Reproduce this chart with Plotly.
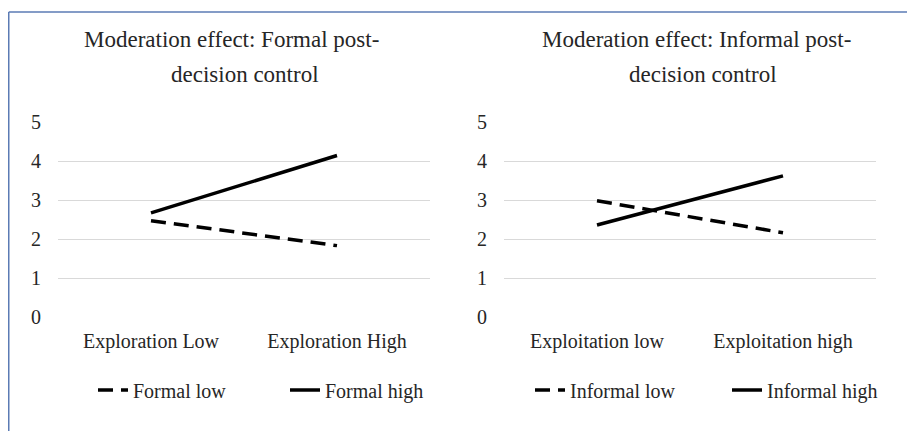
import plotly.graph_objects as go

# ---- data ----
left_categories = ["Exploration Low", "Exploration High"]
right_categories = ["Exploitation low", "Exploitation high"]
formal_low = [2.47, 1.83]
formal_high = [2.67, 4.14]
informal_low = [2.98, 2.16]
informal_high = [2.36, 3.62]
y_ticks = [0, 1, 2, 3, 4, 5]
left_title = ["Moderation effect: Formal post-", "decision control"]
right_title = ["Moderation effect: Informal post-", "decision control"]

W, H = 907, 431
FONT = "Liberation Serif, Times New Roman, serif"
TXT = "#262626"


def px_x(p):
    """window pixel x -> paper fraction"""
    return p / W


def px_y(p):
    """window pixel y -> paper fraction"""
    return (H - p) / H


fig = go.Figure()

dash_style = "15px,8px"
lw = 3.5

fig.add_trace(go.Scatter(x=left_categories, y=formal_low, mode="lines", name="Formal low",
                         line=dict(color="black", width=lw, dash=dash_style),
                         legendwidth=147, xaxis="x", yaxis="y", legend="legend"))
fig.add_trace(go.Scatter(x=left_categories, y=formal_high, mode="lines", name="Formal high",
                         line=dict(color="black", width=lw),
                         xaxis="x", yaxis="y", legend="legend"))
fig.add_trace(go.Scatter(x=right_categories, y=informal_low, mode="lines", name="Informal low",
                         line=dict(color="black", width=lw, dash=dash_style),
                         legendwidth=152, xaxis="x2", yaxis="y2", legend="legend2"))
fig.add_trace(go.Scatter(x=right_categories, y=informal_high, mode="lines", name="Informal high",
                         line=dict(color="black", width=lw),
                         xaxis="x2", yaxis="y2", legend="legend2"))

ydom = [px_y(317), px_y(122)]
xdom1 = [px_x(58), px_x(430)]
xdom2 = [px_x(504), px_x(876)]

xaxis_common = dict(type="category", range=[-0.5, 1.5], showgrid=False, showline=False,
                    zeroline=False, ticks="", ticklabelstandoff=10,
                    tickfont=dict(family=FONT, size=20, color=TXT), fixedrange=True)
yaxis_common = dict(range=[0, 5], tickvals=y_ticks, showgrid=True, gridcolor="#d9d9d9",
                    gridwidth=1.3, showline=False, zeroline=False, ticks="",
                    ticklabelstandoff=16,
                    tickfont=dict(family=FONT, size=20, color=TXT), fixedrange=True)

legend_common = dict(orientation="h", yanchor="middle", y=px_y(390), xanchor="left",
                     font=dict(family=FONT, size=20, color=TXT), bgcolor="rgba(0,0,0,0)",
                     borderwidth=0, tracegroupgap=0)

fig.update_layout(
    width=W, height=H, autosize=False,
    margin=dict(l=0, r=0, t=0, b=0, autoexpand=False),
    paper_bgcolor="white", plot_bgcolor="white",
    showlegend=True,
    xaxis=dict(domain=xdom1, anchor="y", **xaxis_common),
    yaxis=dict(domain=ydom, anchor="x", **yaxis_common),
    xaxis2=dict(domain=xdom2, anchor="y2", **xaxis_common),
    yaxis2=dict(domain=ydom, anchor="x2", **yaxis_common),
    legend=dict(x=px_x(93), **legend_common),
    legend2=dict(x=px_x(530), **legend_common),
    font=dict(family=FONT, color=TXT),
)

annotations = []
title_layout = ((left_title, (231, 245)), (right_title, (696, 703)))
for lines, centers in title_layout:
    for text, cx, cy in zip(lines, centers, (39, 75)):
        annotations.append(dict(text=text, x=px_x(cx), y=px_y(cy), xref="paper", yref="paper",
                                xanchor="center", yanchor="middle", showarrow=False,
                                font=dict(family=FONT, size=23, color=TXT)))
fig.update_layout(annotations=annotations)

# outer chart border (top and left edges visible)
border = "#5b7bb4"
fig.add_shape(type="line", xref="paper", yref="paper", x0=px_x(8.75), x1=px_x(8.75),
              y0=-0.05, y1=px_y(12), line=dict(color=border, width=1.5))
fig.add_shape(type="line", xref="paper", yref="paper", x0=px_x(8.75), x1=1.05,
              y0=px_y(12), y1=px_y(12), line=dict(color=border, width=1.5))

fig.write_html("out.html", config={"displayModeBar": False},
               post_script="document.body.style.margin='0';")
